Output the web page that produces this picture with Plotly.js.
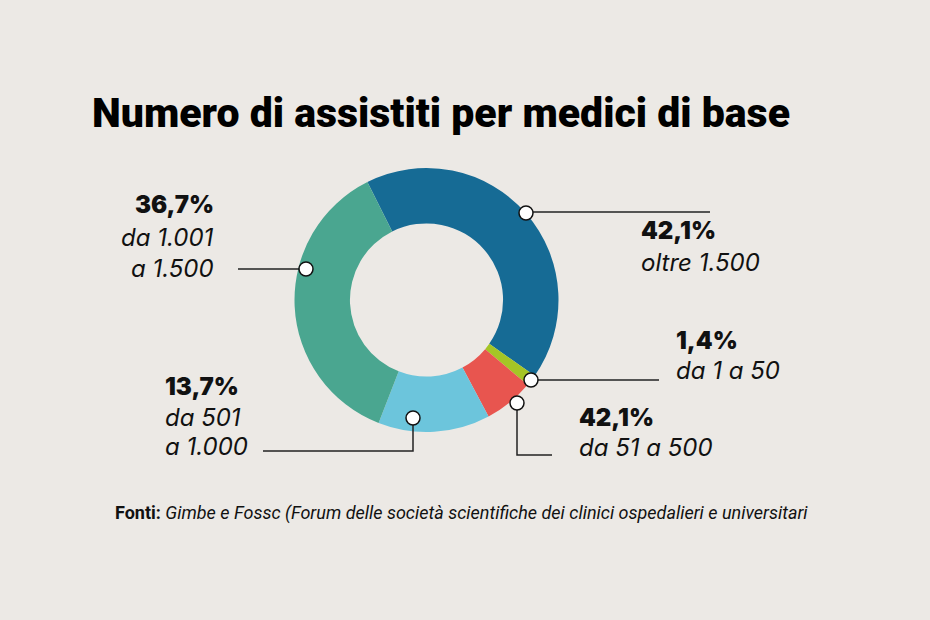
<!DOCTYPE html>
<html>
<head>
<meta charset="utf-8">
<script src="https://cdn.plot.ly/plotly-3.0.1.min.js"></script>
<style>html,body{margin:0;padding:0;background:#ece9e5;}#chart{width:930px;height:620px;}</style>
</head>
<body>
<div id="chart"></div>
<script>
// Data
const categories = ["oltre 1.500", "da 1 a 50", "da 51 a 500", "da 501 a 1.000", "da 1.001 a 1.500"];
const values = [42.1, 1.4, 6.1, 13.7, 36.7];
const colors = ["#166b95", "#a5c526", "#e8554f", "#6cc5dc", "#4aa690"];
const pctLabels = ["42,1%", "1,4%", "42,1%", "13,7%", "36,7%"];
const descLabels = [["oltre 1.500"], ["da 1 a 50"], ["da 51 a 500"], ["da 501", "a 1.000"], ["da 1.001", "a 1.500"]];

const W = 930, H = 620;
const px = x => x / W;
const py = y => 1 - y / H;

const cx = 426.5, cy = 300, R = 132;

const trace = {
  type: 'pie',
  labels: categories,
  values: values,
  marker: {colors: colors, line: {width: 0}},
  hole: 0.58,
  sort: false,
  direction: 'clockwise',
  rotation: -26.6,
  textinfo: 'none',
  hoverinfo: 'none',
  showlegend: false,
  domain: {x: [px(cx - R), px(cx + R)], y: [py(cy + R), py(cy - R)]}
};

const labelPos = [
  {x: 639, y: 230, anchor: 'left', dys: [262]},
  {x: 674, y: 340, anchor: 'left', dys: [370]},
  {x: 577, y: 417, anchor: 'left', dys: [447]},
  {x: 163, y: 386, anchor: 'left', dys: [417, 446]},
  {x: 216, y: 204, anchor: 'right', dys: [237, 268]}
];

const numFont = {family: 'Inter, "Open Sans", sans-serif', size: 24, color: '#111', weight: 900};
const descFont = {family: 'Inter, "Open Sans", sans-serif', size: 24, color: '#111', style: 'italic', weight: 400};

const annotations = [];
labelPos.forEach((p, i) => {
  annotations.push({xref: 'paper', yref: 'paper', x: px(p.x), y: py(p.y), xanchor: p.anchor, yanchor: 'middle',
    text: pctLabels[i], showarrow: false, font: numFont});
  descLabels[i].forEach((t, j) => {
    annotations.push({xref: 'paper', yref: 'paper', x: px(p.x), y: py(p.dys[j]), xanchor: p.anchor, yanchor: 'middle',
      text: t, showarrow: false, font: descFont});
  });
});

annotations.push({xref: 'paper', yref: 'paper', x: px(90), y: py(113), xanchor: 'left', yanchor: 'middle',
  text: 'Numero di assistiti per medici di base', showarrow: false,
  font: {family: 'Roboto, sans-serif', size: 41, color: '#000', weight: 900}});
annotations.push({xref: 'paper', yref: 'paper', x: px(113), y: py(513), xanchor: 'left', yanchor: 'middle',
  text: '<b>Fonti:</b> <i>Gimbe e Fossc (Forum delle società scientifiche dei clinici ospedalieri e universitari</i>', showarrow: false,
  font: {family: 'Roboto, sans-serif', size: 18, color: '#111'}});

const lineColor = '#222';
const paths = [
  [[526, 212], [710, 212]],
  [[531, 380], [659, 380]],
  [[517, 403], [517, 455], [552, 455]],
  [[413, 418], [413, 451], [263, 451]],
  [[306, 269], [238, 269]]
];
const markers = [[526, 213], [531, 380], [517, 403], [413, 418], [306, 269]];

const shapes = [];
paths.forEach(pts => {
  const d = pts.map((p, k) => (k ? 'L' : 'M') + px(p[0]) + ',' + py(p[1])).join(' ');
  shapes.push({type: 'path', xref: 'paper', yref: 'paper', path: d, line: {color: lineColor, width: 1.5}});
});
const r = 7;
markers.forEach(m => {
  shapes.push({type: 'circle', xref: 'paper', yref: 'paper',
    x0: px(m[0] - r), x1: px(m[0] + r), y0: py(m[1] + r), y1: py(m[1] - r),
    fillcolor: '#ffffff', line: {color: '#111', width: 1.5}});
});

const layout = {
  width: W, height: H,
  margin: {l: 0, r: 0, t: 0, b: 0},
  paper_bgcolor: '#ece9e5',
  plot_bgcolor: '#ece9e5',
  annotations: annotations,
  shapes: shapes,
  showlegend: false
};

Plotly.newPlot('chart', [trace], layout, {displayModeBar: false, staticPlot: true});
</script>
</body>
</html>
